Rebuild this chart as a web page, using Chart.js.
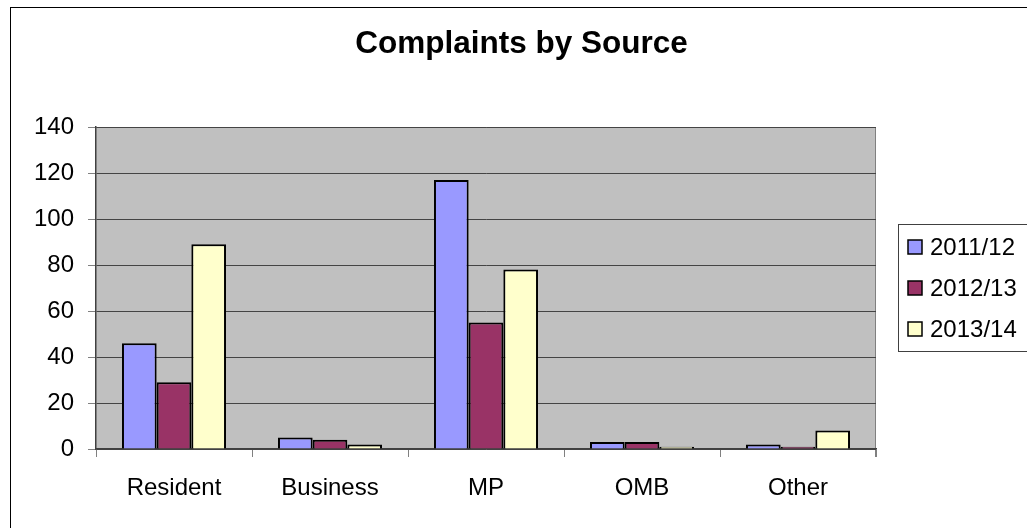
<!DOCTYPE html>
<html>
<head>
<meta charset="utf-8">
<script src="https://cdn.jsdelivr.net/npm/chart.js@4/dist/chart.umd.min.js"></script>
<style>
  html, body { margin: 0; padding: 0; background: #fff; }
  #wrap { position: relative; width: 1027px; height: 528px; }
</style>
</head>
<body>
<div id="wrap"><canvas id="sourceChart" width="1027" height="528"></canvas></div>
<script>
const categories = ["Resident", "Business", "MP", "OMB", "Other"];
const seriesLabels = ["2011/12", "2012/13", "2013/14"];
const values2011 = [46, 5, 117, 3, 2];
const values2012 = [29, 4, 55, 3, 1];
const values2013 = [89, 2, 78, 1, 8];
const seriesColors = ["#9999FF", "#993366", "#FFFFCC"];

const FONT = "'Liberation Sans', Arial, sans-serif";

// grey plot background + outer frame of the whole chart
const backdrop = {
  id: "backdrop",
  beforeDraw(chart) {
    const { ctx, chartArea: a } = chart;
    ctx.save();
    ctx.fillStyle = "#fff";
    ctx.fillRect(0, 0, chart.width, chart.height);
    ctx.strokeStyle = "#000";
    ctx.lineWidth = 1;
    ctx.strokeRect(10.5, 7.5, chart.width + 20, chart.height + 20);
    ctx.fillStyle = "#C0C0C0";
    ctx.fillRect(a.left, a.top, a.right - a.left, a.bottom - a.top);
    ctx.strokeStyle = "#808080";
    ctx.beginPath();
    ctx.moveTo(a.left, a.top + 0.5);
    ctx.lineTo(a.right - 0.5, a.top + 0.5);
    ctx.lineTo(a.right - 0.5, a.bottom + 8);
    ctx.stroke();
    ctx.restore();
  },
};

// excel style legend box, right of the plot
const boxLegend = {
  id: "boxLegend",
  afterDraw(chart) {
    const { ctx, chartArea: a } = chart;
    const left = a.right + 22;
    const top = 224;
    const rowGap = 41;
    ctx.save();
    ctx.strokeStyle = "#404040";
    ctx.lineWidth = 1;
    ctx.strokeRect(left + 0.5, top + 0.5, 200, 127);
    ctx.font = "24px " + FONT;
    ctx.textBaseline = "middle";
    chart.data.datasets.forEach((ds, i) => {
      const cy = top + 23 + i * rowGap;
      ctx.fillStyle = ds.backgroundColor;
      ctx.fillRect(left + 10, cy - 7, 14, 14);
      ctx.strokeStyle = "#000";
      ctx.lineWidth = 1.5;
      ctx.strokeRect(left + 10, cy - 7, 14, 14);
      ctx.fillStyle = "#000";
      ctx.fillText(ds.label, left + 32, cy + 1);
    });
    ctx.restore();
  },
};

const ctx = document.getElementById("sourceChart").getContext("2d");
new Chart(ctx, {
  type: "bar",
  data: {
    labels: categories,
    datasets: [values2011, values2012, values2013].map((vals, i) => ({
      label: seriesLabels[i],
      data: vals,
      backgroundColor: seriesColors[i],
      borderColor: "#000",
      borderWidth: 2,
      categoryPercentage: 0.667,
      barPercentage: 1.0,
    })),
  },
  options: {
    responsive: false,
    animation: false,
    layout: { padding: { left: 16, right: 0, top: 0, bottom: 0 } },
    plugins: {
      legend: { display: false },
      tooltip: { enabled: false },
      title: {
        display: true,
        text: "Complaints by Source",
        color: "#000",
        font: { family: FONT, size: 31.5, weight: "bold" },
        padding: { top: 25, bottom: 64.2 },
      },
    },
    scales: {
      x: {
        grid: {
          display: true,
          drawOnChartArea: false,
          tickLength: 8,
          tickColor: "#808080",
        },
        border: { color: "#404040", width: 1.5 },
        ticks: {
          color: "#000",
          font: { family: FONT, size: 24 },
          padding: 17,
        },
        afterFit(scale) { scale.height = 79; },
      },
      y: {
        min: 0,
        max: 140,
        grid: {
          color: "#444",
          tickLength: 8,
          tickColor: "#808080",
        },
        border: { color: "#404040", width: 1.5 },
        ticks: {
          stepSize: 20,
          color: "#000",
          font: { family: FONT, size: 24 },
          padding: 14,
        },
        afterFit(scale) { scale.width = 80; },
      },
      // empty right-hand axis that only reserves room for the legend
      legendSpace: {
        position: "right",
        display: true,
        grid: { display: false, drawTicks: false },
        border: { display: false },
        ticks: { display: false },
        afterFit(scale) { scale.width = 151; },
      },
    },
  },
  plugins: [backdrop, boxLegend],
});
</script>
</body>
</html>
